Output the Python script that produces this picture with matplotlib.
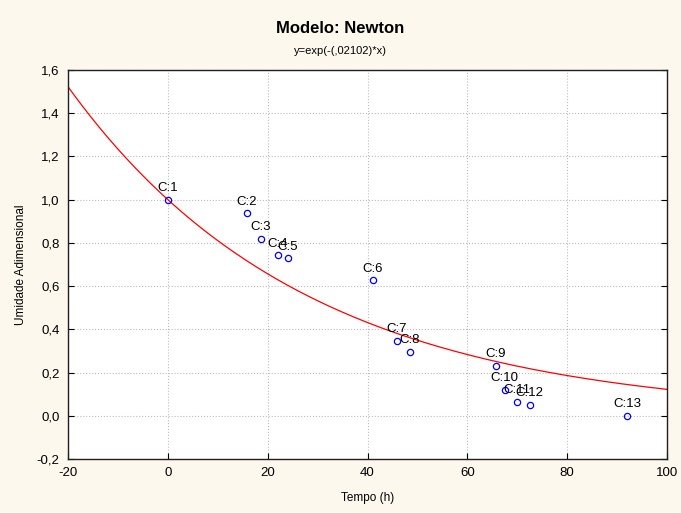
"""Modelo: Newton - umidade adimensional vs tempo."""

import numpy as np
import matplotlib.pyplot as plt
from matplotlib.ticker import FuncFormatter

plt.rcParams["font.family"] = ["Liberation Sans", "DejaVu Sans"]

# data
labels = ["C:1", "C:2", "C:3", "C:4", "C:5", "C:6", "C:7", "C:8",
          "C:9", "C:10", "C:11", "C:12", "C:13"]
tempo = [0.0, 15.8, 18.6, 22.0, 24.0, 41.1, 45.9, 48.5,
         65.7, 67.5, 69.9, 72.5, 92.0]
umidade = [1.0, 0.937, 0.82, 0.743, 0.729, 0.628, 0.346, 0.295,
           0.231, 0.12, 0.065, 0.051, 0.0]
k = 0.02102

BG = "#fdf8ee"


def main():
    fig = plt.figure(figsize=(6.81, 5.13), dpi=100, facecolor=BG)
    ax = fig.add_axes([0.0999, 0.1053, 0.8795, 0.7582])
    ax.set_facecolor("white")

    xs = np.linspace(-20, 100, 400)
    ax.plot(xs, np.exp(-k * xs), color="red", lw=0.9, zorder=2)
    ax.plot(tempo, umidade, "o", mfc="none", mec="blue", mew=0.9,
            ms=4.5, zorder=3)
    for lab, x, y in zip(labels, tempo, umidade):
        ax.annotate(lab, (x, y), xytext=(0, 4), textcoords="offset points",
                    ha="center", va="bottom", fontsize=9.5, color="black",
                    zorder=4)

    ax.set_xlim(-20, 100)
    ax.set_ylim(-0.2, 1.6)
    ax.set_xticks(np.arange(-20, 101, 20))
    ax.set_yticks(np.arange(-0.2, 1.61, 0.2))
    ax.xaxis.set_major_formatter(FuncFormatter(lambda v, p: f"{v:g}"))
    ax.yaxis.set_major_formatter(
        FuncFormatter(lambda v, p: f"{v:.1f}".replace(".", ",")))
    ax.tick_params(direction="in", length=4, width=0.8, labelsize=9.5,
                   top=False, right=True, pad=6)
    ax.grid(True, color="#bdbdbd", linestyle=":", linewidth=0.8)
    for s in ax.spines.values():
        s.set_linewidth(1.0)
        s.set_color("#202020")

    ax.set_xlabel("Tempo (h)", fontsize=8.5, labelpad=9)
    ax.set_ylabel("Umidade Adimensional", fontsize=8.5, labelpad=7)

    fig.text(0.5, 0.945, "Modelo: Newton", ha="center", va="center",
             fontsize=12, fontweight="bold")
    fig.text(0.5, 0.9, "y=exp(-(,02102)*x)", ha="center", va="center",
             fontsize=8)

    fig.savefig("out.png", dpi=100, facecolor=BG)


if __name__ == "__main__":
    main()
